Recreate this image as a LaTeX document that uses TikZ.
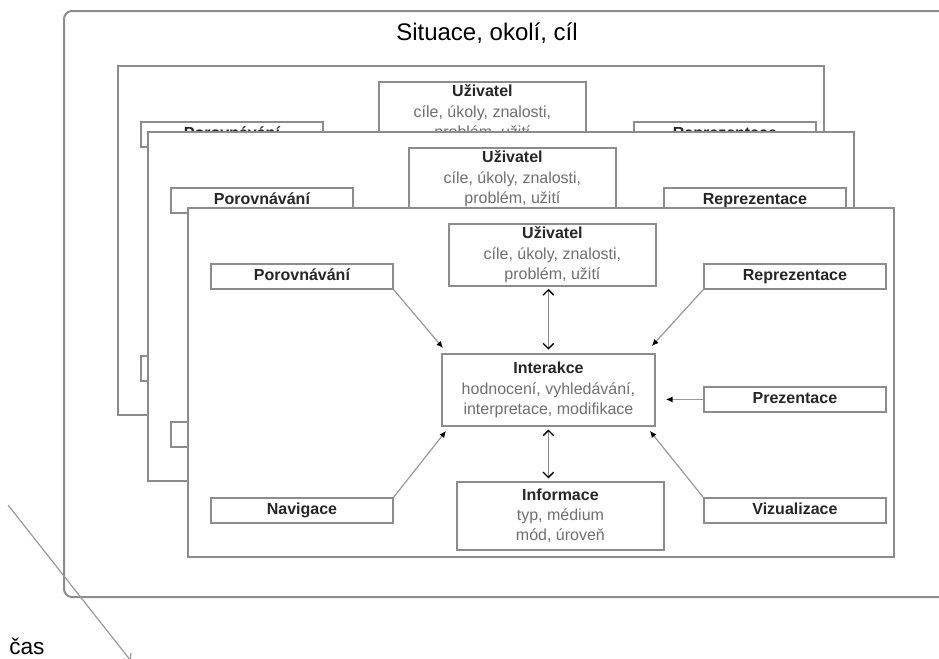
\documentclass[tikz,border=0pt]{standalone}
\usepackage{fontspec}
\setmainfont{Liberation Sans}
\usetikzlibrary{arrows.meta,calc}

\definecolor{framegray}{HTML}{8C8C8C}
\definecolor{linegray}{HTML}{9A9A9A}
\definecolor{textgray}{HTML}{707070}
\definecolor{headgray}{HTML}{262626}

\tikzset{
  scenebox/.style={draw=framegray, line width=1.5pt, rounded corners=6pt,
    anchor=north west, inner sep=0pt},
  layerframe/.style={draw=framegray, line width=1.5pt, fill=white,
    anchor=north west, inner sep=0pt,
    minimum width=529.5pt, minimum height=261.75pt},
  labelbox/.style={draw=framegray, line width=1.4pt, fill=white,
    anchor=north west, inner sep=0pt,
    minimum width=136.5pt, minimum height=18.75pt,
    text height=8.6pt, text depth=2.4pt,
    font=\fontsize{12}{14}\selectfont\bfseries, text=headgray},
  infobox/.style={draw=framegray, line width=1.4pt, fill=white,
    anchor=north west, inner sep=0pt, align=center,
    font=\fontsize{12}{15.2}\selectfont, text=textgray},
  link/.style={draw=linegray, line width=0.9pt,
    -{Latex[length=5pt,width=4.5pt,color=black]}},
  twoway/.style={draw=framegray, line width=1pt,
    {Straight Barb[length=4pt,width=8pt,color=black]}-{Straight Barb[length=4pt,width=8pt,color=black]}},
  timeline/.style={draw=linegray, line width=0.9pt,
    -{Straight Barb[length=4pt,width=7pt]}},
}

% head line of a multi-line box
\newcommand\boxhead[1]{{\bfseries\color{headgray}#1}}

% one interaction layer; #1 prefixes the node names
\newcommand\drawlayer[1]{%
  \node[layerframe] (#1-frame) at (0,0) {};
  \node[infobox, minimum width=155.25pt, minimum height=46.5pt] (#1-uz) at (261,16)
    {\boxhead{Uživatel}\\cíle, úkoly, znalosti,\\problém, užití};
  \node[infobox, minimum width=159.75pt, minimum height=54pt] (#1-int) at (254,146)
    {\boxhead{Interakce}\\hodnocení, vyhledávání,\\interpretace, modifikace};
  \node[infobox, minimum width=155.25pt, minimum height=51pt] (#1-inf) at (269,274)
    {\boxhead{Informace}\\typ, médium\\mód, úroveň};
  \node[labelbox] (#1-por) at (23,56)  {Porovnávání};
  \node[labelbox] (#1-rep) at (516,56) {Reprezentace};
  \node[labelbox] (#1-pre) at (516,179) {Prezentace};
  \node[labelbox] (#1-nav) at (23,290) {Navigace};
  \node[labelbox] (#1-viz) at (516,290) {Vizualizace};
  \draw[link] (#1-por.south east) -- ($(#1-int.north west)+(2,-5)$);
  \draw[link] (#1-rep.south west) -- ($(#1-int.north east)+(-4,-7)$);
  \draw[link] (#1-pre.west) -- ($(#1-int.east |- #1-pre.west)+(10,0)$);
  \draw[link] (#1-nav.north east) -- ($(#1-int.south west)+(5,4)$);
  \draw[link] (#1-viz.north west) -- ($(#1-int.south east)+(-6,4)$);
  \draw[twoway, shorten <=1.5pt, shorten >=2.5pt] (#1-int.north |- #1-uz.south) -- (#1-int.north);
  \draw[twoway, shorten <=2pt, shorten >=2pt] (#1-int.south) -- (#1-int.south |- #1-inf.north);
}

\begin{document}
\begin{tikzpicture}[x=0.75pt, y=-0.75pt]
  \useasboundingbox (0,0) rectangle (939,658);
  \clip (0,0) rectangle (939,658);
  \fill[white] (0,0) rectangle (939,658);

  % surrounding situation
  \node[scenebox, minimum width=702.75pt, minimum height=439.5pt] (scene) at (63,10) {};
  \node[font=\fontsize{18}{21}\selectfont, text=black] (title) at (487,33) {Situace, okolí, cíl};

  % layers from the oldest (back) to the current one (front)
  \begin{scope}[shift={(117,65)}]
    \drawlayer{a}
  \end{scope}
  \begin{scope}[shift={(147,131)}]
    \drawlayer{b}
  \end{scope}
  \begin{scope}[shift={(187,207)}]
    \drawlayer{c}
  \end{scope}

  % time axis
  \coordinate (t0) at (8,505);
  \coordinate (t1) at (131,661);
  \draw[timeline] (t0) -- (t1);
  \node[font=\fontsize{17}{20}\selectfont, text=black, anchor=west, inner sep=0pt] (time) at (9,646) {čas};
\end{tikzpicture}
\end{document}
